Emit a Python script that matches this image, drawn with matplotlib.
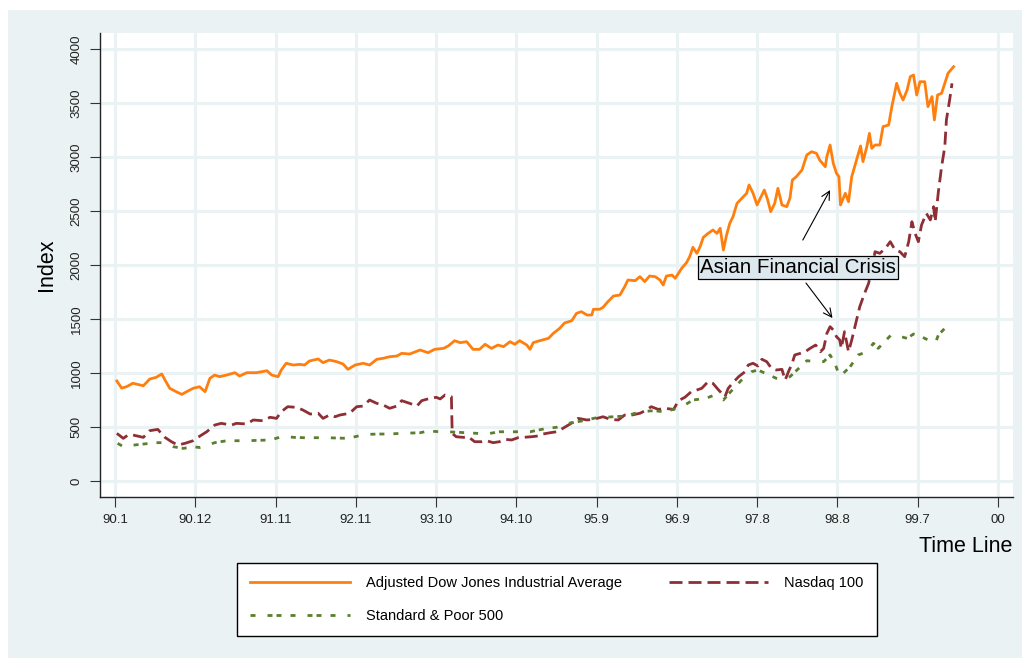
import matplotlib
matplotlib.use("Agg")
import matplotlib.pyplot as plt
from matplotlib.patches import Rectangle
from matplotlib.lines import Line2D

plt.rcParams['font.family'] = ['Liberation Sans', 'DejaVu Sans']
plt.rcParams['lines.scale_dashes'] = False

# ---------------- data (x in tick units: 0 = 90.1, 1 = 90.12, ...) ----------------
tick_labels = ['90.1', '90.12', '91.11', '92.11', '93.10', '94.10',
               '95.9', '96.9', '97.8', '98.8', '99.7', '00']
y_ticks = [0, 500, 1000, 1500, 2000, 2500, 3000, 3500, 4000]

dow_t = [0.02, 0.08, 0.14, 0.22, 0.35, 0.43, 0.51, 0.58, 0.62, 0.68, 0.76, 0.83, 0.89, 0.97,
         1.05, 1.12, 1.18, 1.24, 1.30, 1.39, 1.49, 1.55, 1.64, 1.76, 1.89, 1.95, 2.03, 2.07,
         2.13, 2.22, 2.30, 2.36, 2.42, 2.53, 2.59, 2.67, 2.76, 2.84, 2.90, 2.99, 3.09, 3.17,
         3.26, 3.34, 3.42, 3.51, 3.57, 3.67, 3.80, 3.90, 3.98, 4.09, 4.15, 4.23, 4.30, 4.38,
         4.46, 4.54, 4.61, 4.69, 4.77, 4.84, 4.92, 4.98, 5.04, 5.13, 5.17, 5.21, 5.29, 5.40,
         5.46, 5.54, 5.60, 5.69, 5.75, 5.81, 5.88, 5.94, 5.96, 6.04, 6.08, 6.14, 6.21, 6.29,
         6.35, 6.39, 6.48, 6.54, 6.60, 6.66, 6.73, 6.79, 6.83, 6.87, 6.94, 6.98, 7.02, 7.06,
         7.12, 7.16, 7.20, 7.25, 7.29, 7.33, 7.39, 7.45, 7.50, 7.54, 7.58, 7.62, 7.66, 7.70,
         7.75, 7.81, 7.87, 7.90, 7.95, 8.00, 8.04, 8.09, 8.13, 8.17, 8.22, 8.26, 8.31, 8.37,
         8.41, 8.44, 8.49, 8.56, 8.62, 8.68, 8.74, 8.78, 8.85, 8.87, 8.91, 8.95, 8.99, 9.02,
         9.04, 9.10, 9.14, 9.18, 9.24, 9.29, 9.32, 9.37, 9.40, 9.43, 9.47, 9.53, 9.57, 9.64,
         9.68, 9.74, 9.78, 9.82, 9.87, 9.91, 9.95, 9.99, 10.03, 10.09, 10.13, 10.18, 10.21,
         10.25, 10.30, 10.34, 10.38, 10.45]
dow_v = [926, 860, 873, 905, 882, 944, 960, 991, 935, 858, 827, 802, 827, 858,
         873, 827, 951, 981, 966, 981, 1003, 972, 1003, 1003, 1021, 981, 966, 1028,
         1090, 1074, 1080, 1074, 1111, 1130, 1096, 1120, 1105, 1083, 1034, 1074, 1090, 1074,
         1127, 1136, 1151, 1157, 1182, 1176, 1213, 1188, 1219, 1228, 1250, 1299, 1281, 1290,
         1219, 1219, 1266, 1228, 1259, 1244, 1290, 1266, 1299, 1259, 1219, 1281, 1299, 1321,
         1367, 1414, 1463, 1484, 1553, 1568, 1537, 1537, 1590, 1590, 1608, 1660, 1713, 1722,
         1799, 1861, 1855, 1892, 1846, 1898, 1892, 1861, 1815, 1898, 1907, 1877, 1923, 1969,
         2021, 2077, 2164, 2108, 2170, 2256, 2293, 2324, 2293, 2340, 2139, 2278, 2386, 2447,
         2571, 2618, 2664, 2741, 2664, 2556, 2618, 2694, 2609, 2494, 2571, 2710, 2556, 2540,
         2620, 2787, 2818, 2880, 3019, 3049, 3034, 2972, 2910, 3003, 3111, 2941, 2849, 2818,
         2556, 2664, 2586, 2818, 2972, 3102, 2957, 3102, 3219, 3080, 3111, 3111, 3281, 3296,
         3466, 3682, 3590, 3528, 3620, 3744, 3759, 3574, 3697, 3697, 3466, 3559, 3343,
         3574, 3590, 3682, 3775, 3836]

nas_t = [0.02, 0.10, 0.16, 0.22, 0.35, 0.43, 0.53, 0.62, 0.70, 0.78, 0.87, 0.97, 1.03, 1.14,
         1.24, 1.32, 1.45, 1.51, 1.64, 1.72, 1.84, 1.93, 2.01, 2.07, 2.15, 2.26, 2.34, 2.43,
         2.53, 2.59, 2.67, 2.74, 2.80, 2.92, 3.01, 3.09, 3.17, 3.26, 3.34, 3.42, 3.51, 3.57,
         3.67, 3.76, 3.82, 3.92, 4.00, 4.05, 4.11, 4.19, 4.20, 4.25, 4.34, 4.40, 4.48, 4.57,
         4.63, 4.71, 4.79, 4.86, 4.94, 5.02, 5.08, 5.19, 5.27, 5.33, 5.42, 5.50, 5.58, 5.67,
         5.77, 5.88, 5.96, 6.08, 6.17, 6.27, 6.35, 6.44, 6.54, 6.62, 6.68, 6.77, 6.85, 6.96,
         7.02, 7.10, 7.18, 7.25, 7.31, 7.39, 7.45, 7.52, 7.60, 7.64, 7.70, 7.77, 7.85, 7.89,
         7.95, 8.01, 8.06, 8.12, 8.18, 8.24, 8.31, 8.35, 8.40, 8.43, 8.47, 8.54, 8.60, 8.66,
         8.73, 8.79, 8.83, 8.87, 8.91, 8.95, 8.99, 9.03, 9.05, 9.09, 9.14, 9.18, 9.22, 9.28,
         9.34, 9.39, 9.43, 9.47, 9.53, 9.60, 9.66, 9.72, 9.78, 9.84, 9.89, 9.93, 9.97, 10.01,
         10.05, 10.11, 10.16, 10.20, 10.22, 10.26, 10.30, 10.34, 10.36, 10.40, 10.43]
nas_v = [441, 395, 426, 426, 404, 466, 478, 404, 364, 333, 349, 373, 404, 456,
         518, 534, 518, 534, 528, 565, 558, 590, 580, 642, 688, 682, 657, 620,
         627, 580, 611, 595, 611, 627, 688, 694, 750, 719, 704, 673, 694, 744,
         719, 694, 744, 765, 775, 760, 796, 781, 441, 410, 404, 410, 364, 364,
         373, 355, 364, 386, 380, 401, 404, 410, 417, 435, 447, 456, 488, 528,
         580, 565, 571, 595, 571, 565, 611, 611, 627, 657, 688, 663, 673, 663,
         744, 775, 827, 843, 858, 920, 904, 843, 781, 858, 911, 966, 1012, 1074,
         1090, 1065, 1127, 1105, 1043, 1028, 1034, 935, 1028, 1074, 1167, 1182, 1197, 1228,
         1259, 1197, 1228, 1367, 1429, 1398, 1336, 1306, 1228, 1383, 1197, 1306, 1429, 1614,
         1738, 1830, 1954, 2123, 2108, 2154, 2216, 2139, 2123, 2077, 2216, 2401, 2293, 2216,
         2370, 2478, 2417, 2540, 2401, 2679, 2910, 3096, 3343, 3528, 3682]

sp_t = [0.03, 0.10, 0.16, 0.51, 0.58, 0.72, 0.85, 0.97, 1.05, 1.24, 1.39, 1.55, 1.64, 1.93,
        2.11, 2.22, 2.36, 2.51, 2.63, 2.90, 3.03, 3.13, 3.30, 3.42, 3.55, 3.80, 3.90, 4.05,
        4.15, 4.52, 4.67, 4.79, 5.17, 5.38, 5.50, 5.63, 5.83, 6.00, 6.21, 6.37, 6.54, 6.71,
        6.83, 6.96, 7.10, 7.20, 7.36, 7.47, 7.58, 7.66, 7.80, 7.93, 8.01, 8.24, 8.32, 8.41,
        8.62, 8.74, 8.83, 8.91, 8.97, 9.03, 9.16, 9.26, 9.37, 9.45, 9.51, 9.67, 9.76, 9.87,
        9.95, 10.03, 10.13, 10.22, 10.26, 10.36, 10.41]
sp_v = [349, 318, 327, 355, 355, 318, 302, 318, 310, 355, 373, 373, 373, 380,
        417, 404, 401, 401, 401, 395, 417, 432, 435, 435, 441, 447, 463, 456,
        456, 441, 441, 456, 456, 488, 497, 531, 558, 586, 595, 602, 642, 651,
        642, 663, 704, 750, 765, 796, 750, 818, 930, 1012, 1028, 951, 942, 966,
        1114, 1105, 1105, 1167, 1090, 966, 1058, 1167, 1197, 1275, 1228, 1352, 1343, 1321,
        1361, 1343, 1306, 1275, 1352, 1429, 1444]

series_labels = ['Adjusted Dow Jones Industrial Average', 'Nasdaq 100', 'Standard & Poor 500']

# ---------------- styling ----------------
BG = '#EAF2F3'
ORANGE = '#FF7F0E'
CRAN = '#8E2F36'
GREEN = '#5B7F2F'
PX = 72.0 / 100.0  # points per pixel at dpi 100
SP_DASH = (5 * PX, 12 * PX, 5 * PX, 4 * PX, 5 * PX, 9 * PX)

fig = plt.figure(figsize=(10.27, 6.61), dpi=100, facecolor='white')
bg = Rectangle((8 / 1027, 1 - 658 / 661), (1022 - 8) / 1027, (658 - 10) / 661,
               transform=fig.transFigure, facecolor=BG, edgecolor='none', zorder=-10)
fig.add_artist(bg)

ax = fig.add_axes([100 / 1027, 1 - 497 / 661, (1013 - 100) / 1027, (497 - 33) / 661])
ax.set_zorder(1)
ax.set_facecolor('white')
ax.set_xlim(-0.19, 11.19)
ax.set_ylim(-148, 4148)

ax.set_xticks(range(len(tick_labels)))
ax.set_xticklabels(tick_labels, fontsize=9.5, color='#222222')
ax.set_yticks(y_ticks)
ax.set_yticklabels([str(v) for v in y_ticks], fontsize=9.5, rotation=90, va='center', color='#222222')
ax.grid(True, color=BG, linewidth=2.2, zorder=0)
ax.set_axisbelow(True)

for s in ['top', 'right']:
    ax.spines[s].set_visible(False)
for s in ['left', 'bottom']:
    ax.spines[s].set_color('#222222')
    ax.spines[s].set_linewidth(1.0)
ax.tick_params(axis='both', direction='out', length=7.5, width=0.8, color='#333333')
ax.tick_params(axis='y', pad=5)
ax.tick_params(axis='x', pad=5)

lw = 2.0
l1, = ax.plot(dow_t, dow_v, color=ORANGE, lw=lw, solid_joinstyle='round', zorder=3)
l2, = ax.plot(nas_t, nas_v, color=CRAN, lw=lw, zorder=3)
l2.set_dashes((13 * PX, 6 * PX))
l3, = ax.plot(sp_t, sp_v, color=GREEN, lw=lw, zorder=3)
l3.set_dashes(SP_DASH)

ax.set_ylabel('Index', fontsize=15.5, labelpad=10)
fig.text(1012 / 1027, 1 - 546 / 661, 'Time Line', fontsize=15.5, ha='right', va='center')

# annotation
ax.text(7.29, 1977, 'Asian Financial Crisis', fontsize=14.8, ha='left', va='center', zorder=5,
        bbox=dict(boxstyle='square,pad=0.08', facecolor='#DCE7EE', edgecolor='black', linewidth=0.9))
ax.annotate('', xy=(8.91, 2694), xytext=(8.57, 2231),
            arrowprops=dict(arrowstyle='->,head_length=0.6,head_width=0.3', color='black',
                            lw=0.8, shrinkA=0, shrinkB=0), zorder=5)
ax.annotate('', xy=(8.94, 1509), xytext=(8.61, 1833),
            arrowprops=dict(arrowstyle='->,head_length=0.6,head_width=0.3', color='black',
                            lw=0.8, shrinkA=0, shrinkB=0), zorder=5)

# legend
h1 = Line2D([], [], color=ORANGE, lw=lw)
h2 = Line2D([], [], color=CRAN, lw=lw, dashes=(13 * PX, 6 * PX))
h3 = Line2D([], [], color=GREEN, lw=lw, dashes=SP_DASH)
leg = fig.legend([h1, h3, h2], [series_labels[0], series_labels[2], series_labels[1]],
                 ncol=2, mode='expand', loc='center',
                 bbox_to_anchor=(230 / 1027, 1 - 637 / 661, (884 - 230) / 1027, (637 - 562) / 661),
                 fontsize=10.5, handlelength=6.8, handletextpad=1.1, labelspacing=1.25,
                 borderpad=0.9, fancybox=False, frameon=True, edgecolor='black', framealpha=1)
leg.get_frame().set_linewidth(1.0)

fig.savefig('out.png', dpi=100, facecolor='white')
